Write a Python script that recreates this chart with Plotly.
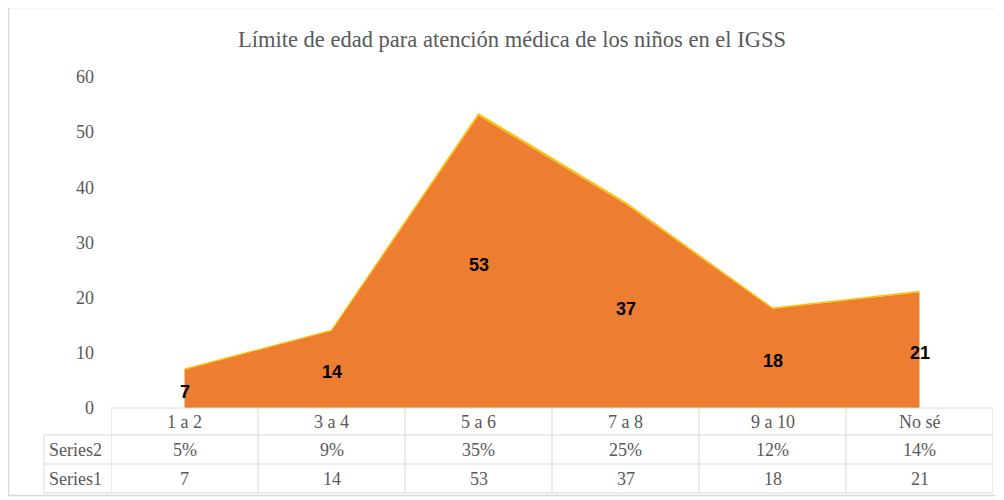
import plotly.graph_objects as go

categories = ["1 a 2", "3 a 4", "5 a 6", "7 a 8", "9 a 10", "No sé"]
series1 = [7, 14, 53, 37, 18, 21]
series2 = [0.05, 0.09, 0.35, 0.25, 0.12, 0.14]
series2_labels = ["5%", "9%", "35%", "25%", "12%", "14%"]
title_text = "Límite de edad para atención médica de los niños en el IGSS"

ORANGE = "#ED7D31"
YELLOW = "#FFC000"
GRAY_TXT = "#595959"
GRID = "#D9D9D9"
SERIF = "Liberation Serif, Times New Roman, serif"

# page body has an 8px margin: figure origin is at screen (8, 8)
OFF = 8
W, H = 996, 492
PL, PR, PT, PB = 111, 993, 77, 408  # plot area in screen px
ML, MR, MT, MB = PL - OFF, W - (PR - OFF), PT - OFF, H - (PB - OFF)
pw, ph = PR - PL, PB - PT

def pxx(sx):
    return (sx - PL) / pw

def pyy(sy):
    return (PB - sy) / ph

xs = list(range(len(categories)))

fig = go.Figure()
fig.add_trace(go.Scatter(
    x=xs, y=series1, stackgroup="one", mode="lines",
    line=dict(color=ORANGE, width=0), fillcolor=ORANGE, name="Series1",
    hoverinfo="skip"))
fig.add_trace(go.Scatter(
    x=xs, y=series2, stackgroup="one", mode="lines",
    line=dict(color=YELLOW, width=1.2), fillcolor=YELLOW, name="Series2",
    hoverinfo="skip"))

annotations = []
# Series1 data labels, centred vertically in the area
for i, v in enumerate(series1):
    annotations.append(dict(x=i, y=v / 2, xref="x", yref="y", text=str(v), showarrow=False,
                            yshift=-3, yanchor="middle",
                            font=dict(family="Liberation Sans, Arial, sans-serif", size=18,
                                      color="black", weight="bold")))

row_sy = [408, 435, 464, 493]
row_y = [pyy(s) for s in row_sy]
left_col_x = pxx(44)

shapes = []
shapes.append(dict(type="line", xref="paper", yref="paper", x0=0, x1=1, y0=row_y[0], y1=row_y[0], line=dict(color=GRID, width=1)))
for yy in row_y[1:]:
    shapes.append(dict(type="line", xref="paper", yref="paper", x0=left_col_x, x1=1, y0=yy, y1=yy, line=dict(color=GRID, width=1)))
for i in range(len(categories) + 1):
    shapes.append(dict(type="line", xref="x", yref="paper", x0=i - 0.5, x1=i - 0.5, y0=row_y[0], y1=row_y[3], line=dict(color=GRID, width=1)))
shapes.append(dict(type="line", xref="paper", yref="paper", x0=left_col_x, x1=left_col_x, y0=row_y[1], y1=row_y[3], line=dict(color=GRID, width=1)))
shapes.append(dict(type="rect", xref="paper", yref="paper",
                   x0=pxx(8.5), x1=pxx(999.5), y0=pyy(495.5), y1=pyy(7.5),
                   line=dict(color=GRID, width=1.5)))

tfont = dict(family=SERIF, size=18, color=GRAY_TXT)
for i, c in enumerate(categories):
    annotations.append(dict(x=i, y=(row_y[0] + row_y[1]) / 2, xref="x", yref="paper", text=c, showarrow=False, font=tfont, yanchor="middle"))
    annotations.append(dict(x=i, y=(row_y[1] + row_y[2]) / 2, xref="x", yref="paper", text=series2_labels[i], showarrow=False, font=tfont, yanchor="middle"))
    annotations.append(dict(x=i, y=(row_y[2] + row_y[3]) / 2, xref="x", yref="paper", text=str(series1[i]), showarrow=False, font=tfont, yanchor="middle"))
annotations.append(dict(x=pxx(47), y=(row_y[1] + row_y[2]) / 2, xref="paper", yref="paper", text="Series2", showarrow=False, font=tfont, xanchor="left", yanchor="middle"))
annotations.append(dict(x=pxx(47), y=(row_y[2] + row_y[3]) / 2, xref="paper", yref="paper", text="Series1", showarrow=False, font=tfont, xanchor="left", yanchor="middle"))
annotations.append(dict(x=pxx(512), y=pyy(40), xref="paper", yref="paper", text=title_text, showarrow=False,
                        font=dict(family=SERIF, size=22.5, color=GRAY_TXT), xanchor="center", yanchor="middle"))

fig.update_layout(
    width=W, height=H,
    margin=dict(l=ML, r=MR, t=MT, b=MB, pad=0),
    paper_bgcolor="white", plot_bgcolor="white",
    showlegend=False,
    xaxis=dict(range=[-0.5, len(categories) - 0.5], showticklabels=False, showgrid=False,
               zeroline=False, showline=False, fixedrange=True),
    yaxis=dict(range=[0, 60], dtick=10, showgrid=False, zeroline=False, showline=False,
               tickfont=dict(family=SERIF, size=18, color=GRAY_TXT), ticklabelstandoff=16),
    shapes=shapes, annotations=annotations,
)

fig.write_html("out.html")
